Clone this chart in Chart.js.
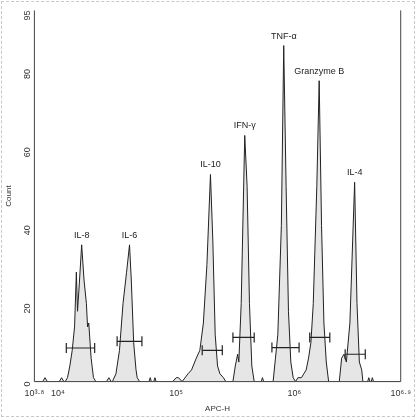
<!DOCTYPE html>
<html>
<head>
<meta charset="utf-8">
<script src="https://cdn.jsdelivr.net/npm/chart.js@4"></script>
<style>
  html, body { margin: 0; padding: 0; background: #fff; }
  #wrap { position: absolute; left: 1px; top: 1px; width: 412px; height: 414px; border: 1px dashed #c8c8c8; }
</style>
</head>
<body>
<div id="wrap"><canvas id="histChart"></canvas></div>
<script>
// ------------ DATA (x in log10 APC-H, y in count) -------------
const histLogX = [3.8, 3.87, 3.89, 3.91, 4.01, 4.03, 4.05,
  4.06, 4.08, 4.10, 4.12, 4.14, 4.155, 4.165, 4.18, 4.20, 4.22, 4.24, 4.25, 4.26, 4.28, 4.30, 4.32,
  4.41, 4.43, 4.45, 4.46, 4.49, 4.52, 4.55, 4.58, 4.605, 4.62, 4.64, 4.66, 4.67, 4.69,
  4.77, 4.78, 4.79, 4.81, 4.82, 4.83, 4.97, 5.00, 5.02, 5.05, 5.10, 5.13, 5.17, 5.20, 5.23, 5.26, 5.29, 5.31, 5.33, 5.35, 5.37, 5.40, 5.42,
  5.48, 5.50, 5.52, 5.53, 5.55, 5.58, 5.60, 5.62, 5.64, 5.66, 5.72, 5.73, 5.74,
  5.82, 5.84, 5.86, 5.89, 5.91, 5.93, 5.95, 5.97, 5.99, 6.01, 6.03, 6.06, 6.08, 6.10,
  6.12, 6.14, 6.16, 6.19, 6.21, 6.23, 6.25, 6.27, 6.29,
  6.38, 6.40, 6.42, 6.44, 6.47, 6.51, 6.53, 6.55, 6.57, 6.58, 6.62, 6.63, 6.64, 6.65, 6.66, 6.67, 6.9];
const histCount = [0, 0, 1, 0, 0, 1, 0,
  0, 1, 4, 8, 14, 28, 18, 25, 35, 26, 20, 14, 15, 6, 1, 0,
  0, 1, 0, 0, 2, 8, 20, 28, 35, 26, 10, 3, 1, 0,
  0, 1, 0, 0, 1, 0, 0, 1, 1, 0, 2, 3, 6, 8, 15, 30, 53, 36, 12, 4, 2, 1, 0,
  0, 4, 7, 5, 20, 63, 50, 20, 4, 0, 0, 1, 0,
  0, 6, 12, 40, 86, 50, 18, 5, 1, 0, 1, 1, 2, 3,
  6, 10, 20, 50, 77, 40, 15, 5, 0,
  0, 6, 7, 5, 15, 51, 20, 5, 3, 0, 0, 1, 0, 0, 1, 0, 0];

const peakNames = ["IL-8", "IL-6", "IL-10", "IFN-γ", "TNF-α", "Granzyme B", "IL-4"];
const peakLogX = [4.20, 4.605, 5.29, 5.58, 5.91, 6.21, 6.51];
const peakCount = [35, 35, 53, 63, 86, 77, 51];

const gateStart = [4.07, 4.50, 5.22, 5.48, 5.81, 6.13, 6.43];
const gateEnd = [4.31, 4.71, 5.39, 5.66, 6.04, 6.30, 6.60];
const gateCount = [8.6, 10.3, 8.0, 11.3, 8.7, 11.3, 7.0];

const xTickValues = [3.8, 4, 5, 6, 6.9];
const xTickLabels = ["10³·⁸", "10⁴", "10⁵", "10⁶", "10⁶·⁹"];
const yTickValues = [0, 20, 40, 60, 80, 95];

// ------------ DATASETS -------------
const histPoints = histLogX.map((x, i) => ({ x: x, y: histCount[i] }));

const datasets = [{
    data: histPoints,
    order: 2,
    borderColor: "#222",
    borderWidth: 1,
    backgroundColor: "#e6e6e6",
    fill: "origin",
    pointRadius: 0,
    tension: 0
}];

gateStart.forEach((s, i) => {
    datasets.push({
        data: [{ x: s, y: gateCount[i] }, { x: gateEnd[i], y: gateCount[i] }],
        order: 1,
        borderColor: "#222",
        borderWidth: 1.2,
        pointStyle: "line",
        rotation: 90,
        pointRadius: 5,
        pointBorderColor: "#222",
        pointBorderWidth: 1.2,
        fill: false
    });
});

// ------------ PLUGINS -------------
const peakLabels = {
    id: "peakLabels",
    afterDatasetsDraw(chart) {
        const { ctx, scales } = chart;
        ctx.save();
        ctx.font = "9px 'Liberation Sans', Arial, sans-serif";
        ctx.fillStyle = "#222";
        ctx.textAlign = "center";
        ctx.textBaseline = "bottom";
        peakNames.forEach((name, i) => {
            ctx.fillText(name, scales.x.getPixelForValue(peakLogX[i]), scales.y.getPixelForValue(peakCount[i]) - 5);
        });
        ctx.restore();
    }
};

const frame = {
    id: "frame",
    afterDraw(chart) {
        const { ctx, chartArea: a } = chart;
        ctx.save();
        ctx.strokeStyle = "#444";
        ctx.lineWidth = 1;
        ctx.beginPath();
        ctx.moveTo(a.left, a.top);
        ctx.lineTo(a.left, a.bottom);
        ctx.lineTo(a.right, a.bottom);
        ctx.lineTo(a.right, a.top);
        ctx.stroke();
        ctx.restore();
    }
};

Chart.defaults.font.family = "'Liberation Sans', Arial, sans-serif";
Chart.defaults.font.size = 9;
Chart.defaults.color = "#333";

new Chart(document.getElementById("histChart"), {
    type: "line",
    data: { datasets: datasets },
    options: {
        responsive: true,
        maintainAspectRatio: false,
        animation: false,
        layout: { padding: { top: 8, right: 8, left: 2, bottom: 0 } },
        plugins: { legend: { display: false }, tooltip: { enabled: false } },
        scales: {
            x: {
                type: "linear",
                min: 3.8,
                max: 6.9,
                afterBuildTicks: axis => { axis.ticks = xTickValues.map(v => ({ value: v })); },
                ticks: {
                    autoSkip: false,
                    maxRotation: 0,
                    callback: v => xTickLabels[xTickValues.indexOf(v)]
                },
                grid: { display: false, drawTicks: true, tickLength: 4 },
                border: { display: false },
                title: { display: true, text: "APC-H", font: { size: 8 }, padding: { top: 2, bottom: 2 } }
            },
            y: {
                min: 0,
                max: 95,
                afterBuildTicks: axis => { axis.ticks = yTickValues.map(v => ({ value: v })); },
                ticks: { autoSkip: false, maxRotation: 90, minRotation: 90 },
                grid: { display: false, tickLength: 4 },
                border: { display: false },
                title: { display: true, text: "Count", font: { size: 8 }, padding: { top: 0, bottom: 0 } }
            }
        }
    },
    plugins: [peakLabels, frame]
});
</script>
</body>
</html>
